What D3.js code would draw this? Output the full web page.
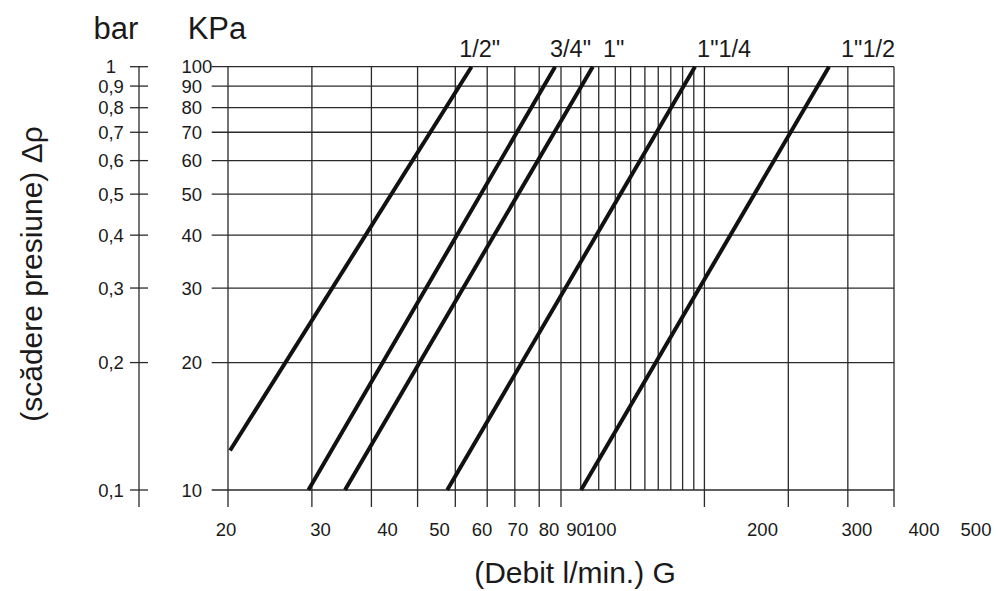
<!DOCTYPE html>
<html>
<head>
<meta charset="utf-8">
<script src="https://cdn.jsdelivr.net/npm/d3@7"></script>
<style>
  html, body { margin: 0; padding: 0; background: #fff; }
  svg { display: block; font-family: Arial, "Liberation Sans", sans-serif; }
</style>
</head>
<body>
<svg id="chart" width="999" height="591"></svg>
<script>
// ---- data ----
const flowGrid = [20, 30, 40, 50, 60, 70, 80, 90, 100, 110, 120, 130, 140, 150, 160, 170, 180, 190, 200, 300, 400, 500];
const flowMajor = [20, 30, 40, 50, 60, 70, 80, 90, 100, 200, 300, 400, 500];
const flowTickLabels = ["20", "30", "40", "50", "60", "70", "80", "90", "100", "200", "300", "400", "500"];
const kpaTicks = [10, 20, 30, 40, 50, 60, 70, 80, 90, 100];
const barTicks = [0.1, 0.2, 0.3, 0.4, 0.5, 0.6, 0.7, 0.8, 0.9, 1];
const barTickLabels = ["0,1", "0,2", "0,3", "0,4", "0,5", "0,6", "0,7", "0,8", "0,9", "1"];

const seriesNames = ['1/2"', '3/4"', '1"', '1"1/4', '1"1/2'];
const flowStart = [20.2, 29.5, 35.2, 57.7, 110.2];
const kpaStart = [12.4, 10, 10, 10, 10];
const flowEnd = [64.9, 97.2, 116.6, 191.1, 365.2];
const kpaEnd = [100, 100, 100, 100, 100];
const labelFlow = [67.5, 104.7, 129, 220, 441];

// ---- scales ----
const svg = d3.select("#chart");
const x = d3.scaleLog().domain([20, 500]).range([228, 894]);
const xLab = d3.scaleLog().domain([20, 500]).range([226, 976]);
const y = d3.scaleLog().domain([10, 100]).range([490, 66.7]);

const gridColor = "#2a2a2a";
const gridLeft = 211.7;
const tickBottom = 507;
const textColor = "#1a1a1a";

// horizontal grid lines
svg.append("g").selectAll("line").data(kpaTicks).join("line")
  .attr("x1", gridLeft).attr("x2", x(500))
  .attr("y1", d => y(d)).attr("y2", d => y(d))
  .attr("stroke", gridColor).attr("stroke-width", 1.3);

// vertical grid lines
svg.append("g").selectAll("line").data(flowGrid).join("line")
  .attr("x1", d => x(d)).attr("x2", d => x(d))
  .attr("y1", y(100))
  .attr("y2", d => flowMajor.includes(d) ? tickBottom : y(10))
  .attr("stroke", gridColor).attr("stroke-width", 1.3);

// KPa labels
svg.append("g").selectAll("text").data(kpaTicks).join("text")
  .attr("x", 181.5).attr("y", d => y(d))
  .attr("dominant-baseline", "central")
  .attr("font-size", 18.5).attr("fill", textColor)
  .text(d => d);

// bar axis
const barG = svg.append("g");
barG.append("line")
  .attr("x1", 139).attr("x2", 139)
  .attr("y1", y(100) - 0.7).attr("y2", tickBottom)
  .attr("stroke", gridColor).attr("stroke-width", 1.3);
barG.selectAll("line.t").data(barTicks).join("line").attr("class", "t")
  .attr("x1", 130).attr("x2", 148)
  .attr("y1", d => y(d * 100)).attr("y2", d => y(d * 100))
  .attr("stroke", gridColor).attr("stroke-width", 1.3);
barG.selectAll("text").data(barTicks).join("text")
  .attr("x", 111).attr("y", d => y(d * 100))
  .attr("text-anchor", "middle").attr("dominant-baseline", "central")
  .attr("font-size", 18.5).attr("fill", textColor)
  .text((d, i) => barTickLabels[i]);

// x tick labels
svg.append("g").selectAll("text").data(flowMajor).join("text")
  .attr("x", d => xLab(d)).attr("y", 529)
  .attr("text-anchor", "middle").attr("dominant-baseline", "central")
  .attr("font-size", 18.5).attr("fill", textColor)
  .text((d, i) => flowTickLabels[i]);

// series lines
const line = d3.line().x(d => x(d[0])).y(d => y(d[1]));
const seriesData = seriesNames.map((n, i) => ({
  name: n,
  pts: [[flowStart[i], kpaStart[i]], [flowEnd[i], kpaEnd[i]]],
  lab: labelFlow[i]
}));
svg.append("g").selectAll("path").data(seriesData).join("path")
  .attr("d", d => line(d.pts))
  .attr("fill", "none").attr("stroke", "#111").attr("stroke-width", 4);

svg.append("g").selectAll("text").data(seriesData).join("text")
  .attr("x", d => x(d.lab)).attr("y", 56.5)
  .attr("text-anchor", "middle")
  .attr("font-size", 23.5).attr("fill", textColor)
  .text(d => d.name);

// titles
svg.append("text").attr("x", 116).attr("y", 38.5).attr("text-anchor", "middle")
  .attr("font-size", 31).attr("fill", textColor).text("bar");
svg.append("text").attr("x", 217).attr("y", 38.5).attr("text-anchor", "middle")
  .attr("font-size", 31).attr("fill", textColor).text("KPa");
svg.append("text").attr("x", 575).attr("y", 583).attr("text-anchor", "middle")
  .attr("font-size", 30).attr("fill", textColor).text("(Debit l/min.) G");
svg.append("text")
  .attr("transform", "translate(31,274) rotate(-90)")
  .attr("text-anchor", "middle").attr("dominant-baseline", "central")
  .attr("font-size", 30).attr("fill", textColor).text("(scădere presiune) Δρ");
</script>
</body>
</html>
